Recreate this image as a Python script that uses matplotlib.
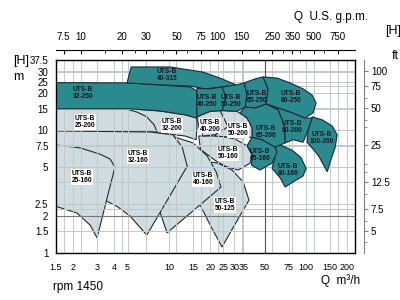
import matplotlib
matplotlib.use('Agg')
import matplotlib.pyplot as plt
from matplotlib.patches import Polygon
from matplotlib.ticker import NullFormatter

plt.rcParams['font.family'] = ['Liberation Sans Narrow', 'Liberation Sans', 'DejaVu Sans']

# operating ranges, Q in m3/h, H in m
# dark (teal) ranges
q_32_250 = [1.5, 4.95, 8.6, 14.3, 16.0, 16.0, 13.1, 8.6, 5.2, 1.5]
h_32_250 = [24.5, 24.4, 23.5, 22.6, 21.0, 12.6, 13.4, 14.4, 15.0, 15.0]
q_40_315 = [4.95, 5.3, 10.2, 17.7, 23.6, 30.9, 24.4, 18.4, 14.3, 8.6]
h_40_315 = [24.4, 32.9, 32.9, 29.9, 26.7, 23.5, 22.6, 21.8, 23.0, 23.5]
q_40_250 = [16.0, 20.0, 24.4, 26.1, 24.5, 20.0, 16.0]
h_40_250 = [22.0, 21.8, 22.6, 18.7, 14.5, 14.3, 12.9]
q_50_250 = [24.4, 30.9, 35.4, 37.2, 36.0, 31.4, 24.5, 26.1]
h_50_250 = [22.6, 23.5, 24.4, 19.4, 15.5, 14.3, 14.5, 18.7]
q_65_250 = [35.4, 42.6, 48.6, 53.0, 51.2, 42.6, 36.0, 37.2]
h_65_250 = [24.4, 26.3, 27.3, 21.8, 16.4, 15.2, 15.5, 19.4]
q_80_250 = [48.6, 61.5, 76.6, 95.3, 110.9, 118.5, 112.8, 98.6, 76.6, 51.2, 53.0]
h_80_250 = [27.3, 26.7, 24.4, 21.8, 19.4, 16.7, 13.9, 12.6, 14.1, 16.4, 21.8]
q_80_160 = [53.0, 64.8, 79.2, 92.1, 100.2, 95.3, 80.6, 70.5, 64.8, 56.6, 59.5]
h_80_160 = [7.5, 7.6, 6.9, 6.0, 4.9, 4.25, 3.8, 3.45, 4.1, 4.9, 6.0]
q_65_160 = [40.5, 47.9, 59.5, 61.5, 56.6, 46.2, 40.0, 40.5, 37.2]
h_65_160 = [8.8, 8.4, 7.3, 6.7, 5.4, 4.75, 5.2, 6.3, 7.5]
q_100_200 = [110.9, 131, 155, 169, 163, 150, 143, 122.6, 102, 103.7]
h_100_200 = [12.9, 12.2, 10.9, 9.2, 7.2, 5.5, 4.6, 6.3, 8.0, 10.1]
q_80_200 = [51.2, 76.6, 98.6, 110.9, 103.7, 95.3, 80.6, 70.5, 69.3, 62.6]
h_80_200 = [16.4, 14.1, 12.6, 12.6, 10.1, 8.0, 8.4, 7.9, 11.1, 14.7]
q_65_200 = [36.0, 42.6, 51.2, 62.6, 69.3, 70.5, 59.5, 47.9, 40.5, 40.5, 37.2, 33.0]
h_65_200 = [15.5, 15.2, 16.4, 14.7, 11.1, 7.9, 7.3, 8.4, 8.8, 10.5, 12.6, 13.9]

# light ranges
q_50_125 = [16.9, 22.8, 28.9, 34.8, 38.4, 24.4, 20.0, 16.9, 14.3]
h_50_125 = [5.7, 5.4, 4.75, 3.8, 2.7, 1.12, 1.69, 2.46, 2.97]
q_50_160 = [16.5, 23.6, 30.4, 37.2, 40.5, 39.1, 31.9, 25.7, 21.7, 17.0]
h_50_160 = [9.0, 9.0, 8.5, 7.5, 6.3, 5.4, 4.75, 5.1, 5.7, 7.0]
q_32_200 = [5.2, 8.6, 13.1, 16.0, 16.0, 15.8, 13.1, 8.6, 5.2]
h_32_200 = [15.0, 14.4, 13.4, 12.6, 10.5, 8.4, 9.0, 9.5, 9.7]
q_25_200 = [1.5, 3.1, 4.8, 5.85, 6.9, 7.8, 8.2, 1.5]
h_25_200 = [15.0, 15.0, 15.0, 14.1, 12.9, 11.1, 9.7, 9.7]
q_40_160 = [7.3, 11.1, 15.0, 19.0, 22.1, 24.0, 9.7, 8.6, 7.3]
h_40_160 = [9.5, 8.8, 7.9, 6.2, 4.6, 3.45, 1.46, 2.16, 8.4]
q_32_160 = [1.5, 7.3, 10.7, 12.5, 13.6, 6.9, 5.2, 4.25, 3.5, 3.1, 1.5]
h_32_160 = [9.9, 9.7, 9.2, 7.3, 5.1, 1.4, 2.0, 2.37, 2.66, 3.27, 3.9]
q_25_160 = [1.5, 2.25, 3.14, 3.72, 4.04, 2.99, 2.66, 2.13, 1.5]
h_25_160 = [7.6, 7.2, 6.4, 5.84, 5.03, 1.33, 1.69, 2.12, 2.4]
q_50_200 = [20.6, 25.0, 31.4, 37.2, 40.5, 40.5, 31.9, 21.7, 24.0]
h_50_200 = [14.3, 14.5, 14.3, 12.6, 10.5, 8.8, 8.7, 9.0, 11.5]
q_40_200 = [16.0, 20.0, 23.6, 27.0, 21.7, 17.7, 16.6]
h_40_200 = [12.9, 14.3, 14.5, 10.7, 9.2, 9.0, 10.5]

dark_regions = [('32-250', q_32_250, h_32_250), ('40-315', q_40_315, h_40_315),
                ('40-250', q_40_250, h_40_250), ('50-250', q_50_250, h_50_250),
                ('65-250', q_65_250, h_65_250), ('80-250', q_80_250, h_80_250),
                ('80-160', q_80_160, h_80_160), ('65-160', q_65_160, h_65_160),
                ('100-200', q_100_200, h_100_200), ('80-200', q_80_200, h_80_200),
                ('65-200', q_65_200, h_65_200)]
dark_label_q = [2.36, 9.7, 19.0, 28.5, 44.0, 77.9, 74.0, 46.0, 131, 79.2, 51.2]
dark_label_h = [20.2, 28.3, 17.4, 17.4, 18.7, 18.7, 4.75, 6.3, 8.7, 10.7, 9.7]

light_regions = [('50-125', q_50_125, h_50_125), ('50-160', q_50_160, h_50_160),
                 ('32-200', q_32_200, h_32_200), ('25-200', q_25_200, h_25_200),
                 ('40-160', q_40_160, h_40_160), ('32-160', q_32_160, h_32_160),
                 ('25-160', q_25_160, h_25_160), ('50-200', q_50_200, h_50_200),
                 ('40-200', q_40_200, h_40_200)]
light_label_q = [25.7, 27.0, 10.5, 2.44, 17.7, 5.95, 2.32, 31.9, 20.0]
light_label_h = [2.46, 6.5, 11.0, 11.7, 4.0, 6.1, 4.17, 10.1, 10.9]

# axis ticks
q_ticks = [1.5, 2, 3, 4, 5, 10, 15, 20, 25, 30, 35, 50, 75, 100, 150, 200]
q_labels = ['1.5', '2', '3', '4', '5', '10', '15', '20', '25', '30', '35', '50', '75', '100', '150', '200']
h_ticks = [1, 1.5, 2, 2.5, 5, 7.5, 10, 15, 20, 25, 30, 37.5]
h_labels = ['1', '1.5', '2', '2.5', '5', '7.5', '10', '15', '20', '25', '30', '37.5']
gpm_ticks = [7.5, 10, 20, 30, 50, 75, 100, 150, 250, 350, 500, 750]
gpm_labels = ['7.5', '10', '20', '30', '50', '75', '100', '150', '250', '350', '500', '750']
gpm_minor = [15, 25, 40, 60, 200, 300, 400, 600]
ft_ticks = [5, 7.5, 12.5, 25, 50, 75, 100]
ft_labels = ['5', '7.5', '12.5', '25', '50', '75', '100']
ft_minor = [4, 6, 10, 15, 17.5, 35, 40, 60]

TEAL = '#2b8a8e'
LIGHT = '#d0dde0'
EDGE = '#1b2a35'
GRID = '#c4c8ca'

fig = plt.figure(figsize=(4, 3), dpi=100)
ax = fig.add_axes([0.14, 0.1567, 0.7475, 0.6433])
ax.set_xscale('log')
ax.set_yscale('log')
ax.set_xlim(1.5, 228)
ax.set_ylim(1, 37.5)

# grid: both unit systems
for q in q_ticks[1:] + [g / 4.403 for g in gpm_ticks]:
    ax.axvline(q, color=GRID, lw=0.7, zorder=1.5)
for h in h_ticks[1:-1] + [f * 0.3048 for f in ft_ticks]:
    ax.axhline(h, color=GRID, lw=0.7, zorder=1.5)
ax.axvline(50, color='#555555', lw=0.8, zorder=1.6)
ax.axhline(2, color='#777777', lw=0.8, zorder=1.6)

for (name, q, h), lq, lh in zip(light_regions, light_label_q, light_label_h):
    ax.add_patch(Polygon(list(zip(q, h)), closed=True, fc=LIGHT, ec=EDGE, lw=0.8, zorder=1))
    ax.text(lq, lh, 'UTS-B\n' + name, ha='center', va='center', fontsize=4.8,
            fontweight='bold', linespacing=1.0, zorder=5,
            bbox=dict(boxstyle='square,pad=0.1', fc='white', ec='none'))

for (name, q, h), lq, lh in zip(dark_regions, dark_label_q, dark_label_h):
    ax.add_patch(Polygon(list(zip(q, h)), closed=True, fc=TEAL, ec=EDGE, lw=0.8, zorder=2))
    ax.text(lq, lh, 'UTS-B\n' + name, ha='center', va='center', fontsize=4.8,
            fontweight='bold', linespacing=1.0, color='#101820', zorder=5)

ax.set_xticks(q_ticks, q_labels)
ax.set_xticks([], minor=True)
ax.set_yticks(h_ticks, h_labels)
ax.set_yticks([], minor=True)
ax.tick_params(axis='x', length=0, labelsize=6.5, pad=7.5)
ax.tick_params(axis='y', length=0, labelsize=7, pad=5.5)
for s in ax.spines.values():
    s.set_linewidth(1.0)

# U.S. gpm scale on top
top = ax.secondary_xaxis('top', functions=(lambda q: q * 4.403, lambda g: g / 4.403))
top.spines['top'].set_position(('outward', 7))
top.set_ticks(gpm_ticks, labels=gpm_labels)
top.set_ticks(gpm_minor, minor=True)
top.xaxis.set_minor_formatter(NullFormatter())
top.tick_params(which='both', direction='in', length=3, labelsize=7, pad=6)
top.tick_params(which='minor', length=2)

# feet scale on the right
right = ax.secondary_yaxis('right', functions=(lambda h: h / 0.3048, lambda f: f * 0.3048))
right.spines['right'].set_position(('outward', 6.5))
right.spines['right'].set_color('#808080')
right.set_ticks(ft_ticks, labels=ft_labels)
right.set_ticks(ft_minor, minor=True)
right.yaxis.set_minor_formatter(NullFormatter())
right.tick_params(which='both', direction='out', length=3, color='#808080', labelsize=7, pad=2)
right.tick_params(which='minor', length=2)

fig.text(21 / 400, 1 - 61 / 300, '[H]', ha='center', va='center', fontsize=9)
fig.text(18 / 400, 1 - 77 / 300, 'm', ha='center', va='center', fontsize=9)
fig.text(331 / 400, 1 - 17 / 300, 'Q  U.S. g.p.m.', ha='center', va='center', fontsize=8.5)
fig.text(385 / 400, 1 - 31 / 300, '[H]', ha='left', va='center', fontsize=9)
fig.text(392 / 400, 1 - 56 / 300, 'ft', ha='left', va='center', fontsize=9)
fig.text(53 / 400, 1 - 287 / 300, 'rpm 1450', ha='left', va='center', fontsize=8.5)
fig.text(341 / 400, 1 - 281 / 300, 'Q  m³/h', ha='center', va='center', fontsize=8.5)

fig.savefig('out.png', dpi=100)
